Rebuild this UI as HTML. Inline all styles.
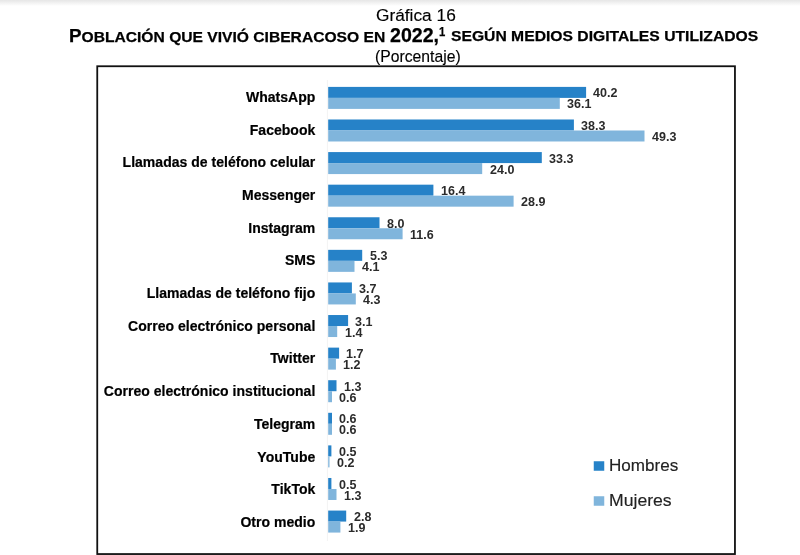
<!DOCTYPE html>
<html lang="es"><head><meta charset="utf-8"><title>Gráfica 16</title>
<style>
html,body{margin:0;padding:0;background:#fff;}
body{width:800px;height:555px;position:relative;overflow:hidden;font-family:"Liberation Sans",sans-serif;color:#000;}
.shade{position:absolute;left:0;top:0;width:800px;height:6px;background:linear-gradient(#e6e6e6,#fff);}
.t{position:absolute;white-space:nowrap;transform-origin:0 0;line-height:24px;height:24px;}
.t b{font-size:18px}
.frame{position:absolute;left:0;top:0;width:800px;height:555px;}
.h{fill:#2682c8;}
.m{fill:#80b5dc;}
.cat{position:absolute;right:484.7px;-webkit-text-stroke:0.2px #000;font-weight:bold;font-size:14px;line-height:16px;white-space:nowrap;color:#000;letter-spacing:0.02px}
.v{position:absolute;font-weight:bold;font-size:12.1px;line-height:12px;color:#2b2b2b;white-space:nowrap;transform-origin:0 50%;transform:scaleX(1.035)}
.lg{position:absolute;-webkit-text-stroke:0.15px #222;left:609px;font-size:16.8px;line-height:20px;color:#222;transform-origin:0 50%;}
</style></head><body>
<div class="shade"></div>

<div class="t" id="t1" style="left:376.2px;top:3.78px;font-size:16.8px;font-weight:normal;-webkit-text-stroke:0.15px #000;transform:scaleX(1.03)">Gráfica 16</div>
<div class="t" id="t2a" style="left:68.5px;top:24.20px;font-size:15px;font-weight:bold;-webkit-text-stroke:0.25px #000;transform:scaleX(1.0411)"><b>P</b>OBLACIÓN QUE VIVIÓ CIBERACOSO EN</div>
<div class="t" id="t2b" style="left:390px;top:23.21px;font-size:19.6px;font-weight:bold;-webkit-text-stroke:0.25px #000;transform:scaleX(1.0)">2022,</div>
<div class="t" id="t2c" style="left:439.0px;top:20.07px;font-size:12.5px;font-weight:bold;-webkit-text-stroke:0.25px #000;transform:scaleX(0.9)">1</div>
<div class="t" id="t2d" style="left:451px;top:24.20px;font-size:15px;font-weight:bold;-webkit-text-stroke:0.25px #000;transform:scaleX(1.0453)">SEGÚN MEDIOS DIGITALES UTILIZADOS</div>
<div class="t" id="t3" style="left:375.2px;top:45.01px;font-size:17px;font-weight:normal;-webkit-text-stroke:0.15px #000;transform:scaleX(0.925)">(Porcentaje)</div>
<div class="cat" style="top:88.80px">WhatsApp</div>
<div class="cat" style="top:121.51px">Facebook</div>
<div class="cat" style="top:154.21px">Llamadas de teléfono celular</div>
<div class="cat" style="top:186.92px">Messenger</div>
<div class="cat" style="top:219.62px">Instagram</div>
<div class="cat" style="top:252.33px">SMS</div>
<div class="cat" style="top:285.03px">Llamadas de teléfono fijo</div>
<div class="cat" style="top:317.74px">Correo electrónico personal</div>
<div class="cat" style="top:350.44px">Twitter</div>
<div class="cat" style="top:383.15px">Correo electrónico institucional</div>
<div class="cat" style="top:415.85px">Telegram</div>
<div class="cat" style="top:448.55px">YouTube</div>
<div class="cat" style="top:481.26px">TikTok</div>
<div class="cat" style="top:513.97px">Otro medio</div>
<svg class="frame" width="800" height="555" viewBox="0 0 800 555"><rect x="97.25" y="66.25" width="637.7" height="487.8" fill="none" stroke="#111" stroke-width="1.8"/><line x1="327.4" y1="80" x2="327.4" y2="541" stroke="#f3f3f3" stroke-width="1"/><rect class="h" x="328.2" y="86.90" width="257.9" height="11.0"/><rect class="m" x="328.2" y="97.90" width="231.6" height="11.0"/><rect class="h" x="328.2" y="119.49" width="245.7" height="11.0"/><rect class="m" x="328.2" y="130.49" width="316.3" height="11.0"/><rect class="h" x="328.2" y="152.08" width="213.6" height="11.0"/><rect class="m" x="328.2" y="163.08" width="154.0" height="11.0"/><rect class="h" x="328.2" y="184.67" width="105.2" height="11.0"/><rect class="m" x="328.2" y="195.67" width="185.4" height="11.0"/><rect class="h" x="328.2" y="217.26" width="51.3" height="11.0"/><rect class="m" x="328.2" y="228.26" width="74.4" height="11.0"/><rect class="h" x="328.2" y="249.85" width="34.0" height="11.0"/><rect class="m" x="328.2" y="260.85" width="26.3" height="11.0"/><rect class="h" x="328.2" y="282.44" width="23.7" height="11.0"/><rect class="m" x="328.2" y="293.44" width="27.6" height="11.0"/><rect class="h" x="328.2" y="315.03" width="19.9" height="11.0"/><rect class="m" x="328.2" y="326.03" width="9.0" height="11.0"/><rect class="h" x="328.2" y="347.62" width="10.9" height="11.0"/><rect class="m" x="328.2" y="358.62" width="7.7" height="11.0"/><rect class="h" x="328.2" y="380.21" width="8.3" height="11.0"/><rect class="m" x="328.2" y="391.21" width="3.8" height="11.0"/><rect class="h" x="328.2" y="412.80" width="3.8" height="11.0"/><rect class="m" x="328.2" y="423.80" width="3.8" height="11.0"/><rect class="h" x="328.2" y="445.39" width="3.2" height="11.0"/><rect class="m" x="328.2" y="456.39" width="1.3" height="11.0"/><rect class="h" x="328.2" y="477.98" width="3.2" height="11.0"/><rect class="m" x="328.2" y="488.98" width="8.3" height="11.0"/><rect class="h" x="328.2" y="510.57" width="18.0" height="11.0"/><rect class="m" x="328.2" y="521.57" width="12.2" height="11.0"/><rect class="h" x="593.75" y="461.25" width="10.5" height="9.5"/><rect class="m" x="593.75" y="496.25" width="10.5" height="9.5"/></svg>
<div class="v" style="left:593.4px;top:87.45px">40.2</div>
<div class="v" style="left:567.1px;top:98.45px">36.1</div>
<div class="v" style="left:581.2px;top:120.04px">38.3</div>
<div class="v" style="left:651.8px;top:131.04px">49.3</div>
<div class="v" style="left:549.1px;top:152.63px">33.3</div>
<div class="v" style="left:489.5px;top:163.63px">24.0</div>
<div class="v" style="left:440.7px;top:185.22px">16.4</div>
<div class="v" style="left:520.9px;top:196.22px">28.9</div>
<div class="v" style="left:386.8px;top:217.81px">8.0</div>
<div class="v" style="left:409.9px;top:228.81px">11.6</div>
<div class="v" style="left:369.5px;top:250.40px">5.3</div>
<div class="v" style="left:361.8px;top:261.40px">4.1</div>
<div class="v" style="left:359.2px;top:282.99px">3.7</div>
<div class="v" style="left:363.1px;top:293.99px">4.3</div>
<div class="v" style="left:355.4px;top:315.58px">3.1</div>
<div class="v" style="left:344.5px;top:326.58px">1.4</div>
<div class="v" style="left:346.4px;top:348.17px">1.7</div>
<div class="v" style="left:343.2px;top:359.17px">1.2</div>
<div class="v" style="left:343.8px;top:380.76px">1.3</div>
<div class="v" style="left:339.3px;top:391.76px">0.6</div>
<div class="v" style="left:339.3px;top:413.35px">0.6</div>
<div class="v" style="left:339.3px;top:424.35px">0.6</div>
<div class="v" style="left:338.7px;top:445.94px">0.5</div>
<div class="v" style="left:336.8px;top:456.94px">0.2</div>
<div class="v" style="left:338.7px;top:478.53px">0.5</div>
<div class="v" style="left:343.8px;top:489.53px">1.3</div>
<div class="v" style="left:353.5px;top:511.12px">2.8</div>
<div class="v" style="left:347.7px;top:522.12px">1.9</div>
<div class="lg" style="top:455.5px;transform:scaleX(1.018)">Hombres</div>
<div class="lg" style="top:490.5px;transform:scaleX(1.05)">Mujeres</div>
</body></html>
